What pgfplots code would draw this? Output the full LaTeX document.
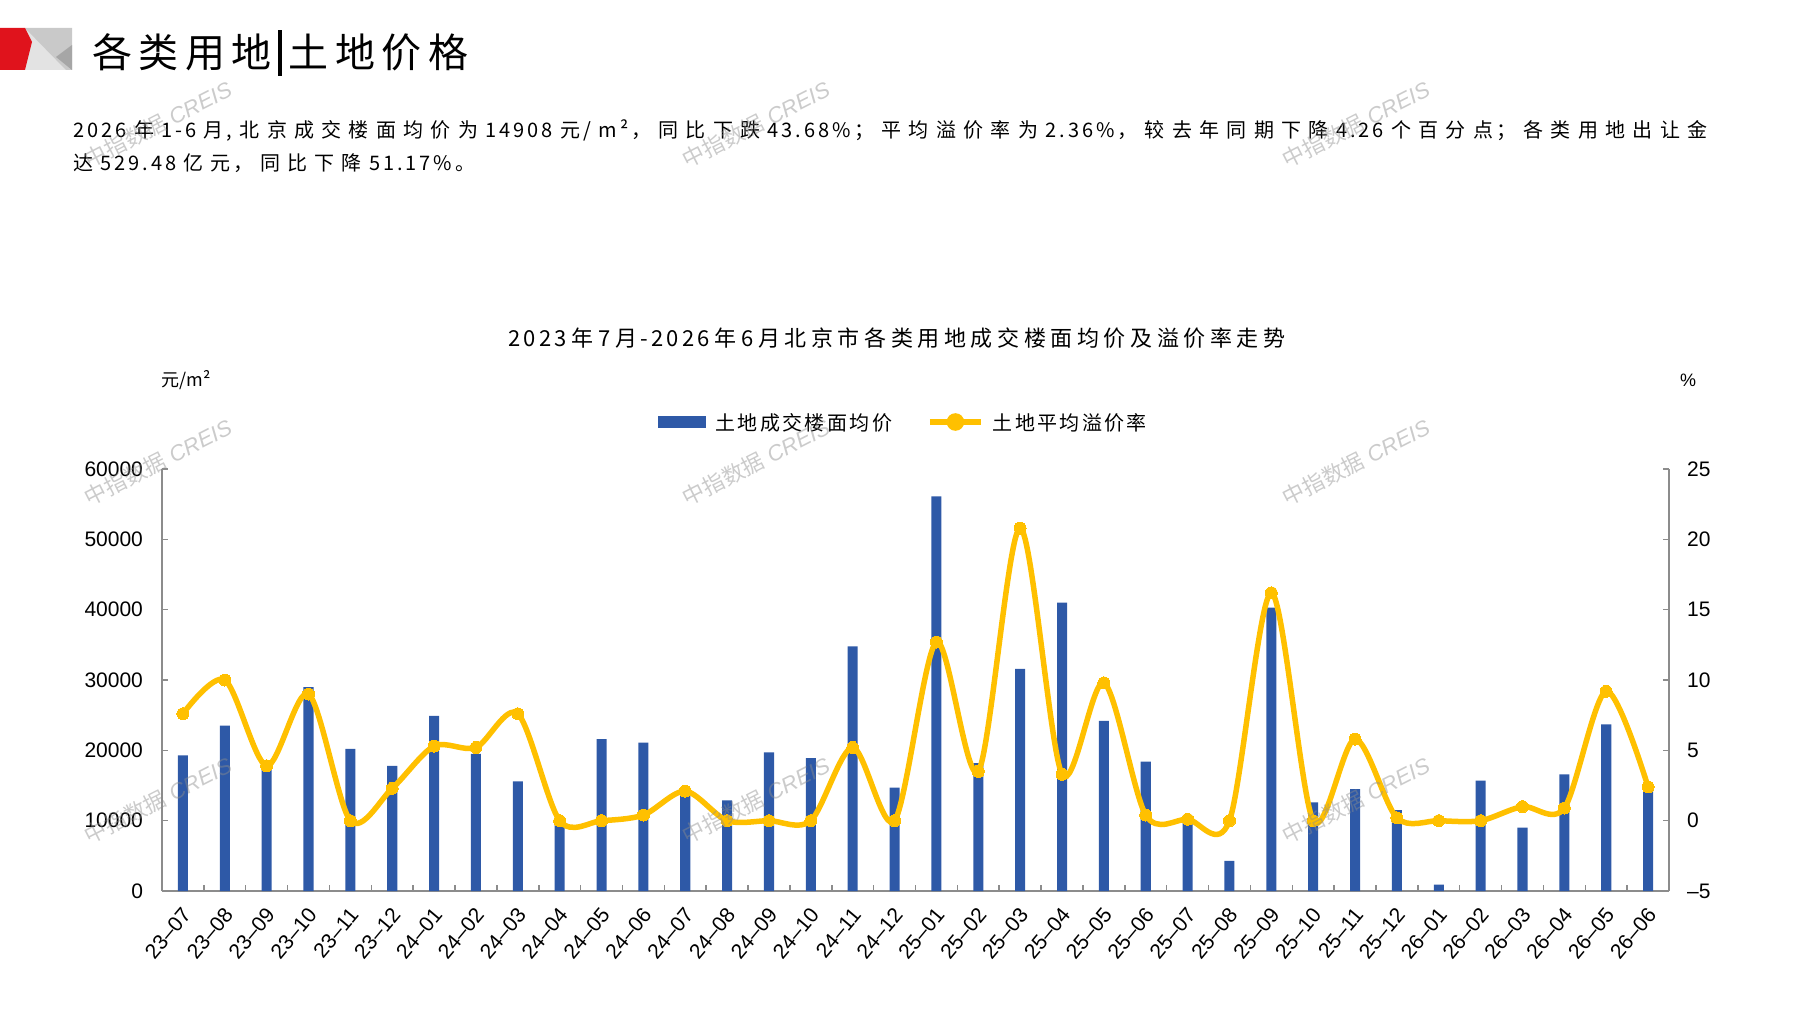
\documentclass[border=0pt]{standalone}
\usepackage{fontspec}
\setmainfont{Liberation Sans}
\newfontfamily\cjk{Noto Sans CJK SC}
\newfontfamily\cjksp[LetterSpace=15]{Noto Sans CJK SC}
\usepackage{pgfplots}
\pgfplotsset{compat=1.18}
\definecolor{barblue}{HTML}{2E59A7}
\definecolor{gold}{HTML}{FFC000}
\definecolor{axgray}{HTML}{8C8C8C}
\definecolor{logored}{HTML}{E0131C}
\newcommand\fillto[2]{\parbox[c]{#1}{\cjk\parfillskip=0pt\XeTeXlinebreaklocale "zh"\XeTeXlinebreakskip=0pt plus 1fil\relax #2}}
\newcommand\fillsp[2]{\parbox[c]{#1}{\cjksp\parfillskip=0pt\XeTeXlinebreaklocale "zh"\XeTeXlinebreakskip=0pt plus 1fil\relax #2}}

\pgfplotstableread{
x price rate
0 19300 7.6
1 23500 10.0
2 17500 3.9
3 29000 9.0
4 20200 0.0
5 17800 2.3
6 24900 5.3
7 19500 5.2
8 15600 7.6
9 10200 0.0
10 21600 0.0
11 21100 0.4
12 13900 2.1
13 12900 0.0
14 19700 0.0
15 18900 0.0
16 34800 5.2
17 14700 0.0
18 56100 12.7
19 18200 3.5
20 31600 20.8
21 41000 3.3
22 24200 9.8
23 18400 0.4
24 10700 0.1
25 4300 0.0
26 40300 16.2
27 12600 0.0
28 14500 5.8
29 11500 0.2
30 900 0.0
31 15700 0.0
32 9000 1.0
33 16600 0.9
34 23700 9.2
35 15000 2.4
}\datatable

\begin{document}
\begin{tikzpicture}
\useasboundingbox (0,0) rectangle (898.5pt,-505pt);
\pgfplotsset{
  common/.style={
    at={(81pt,-445.5pt)}, anchor=south west, scale only axis,
    width=753.5pt, height=211pt,
    xmin=-0.5, xmax=35.5,
    tick align=inside,
    major tick length=3pt, minor tick length=3pt,
    axis line style={axgray, line width=0.75pt},
    every tick/.style={axgray, line width=0.75pt},
    tick label style={font=\fontsize{10.5}{12}\selectfont, text=black},
    scaled y ticks=false,
    /pgf/number format/assume math mode=true,
    /pgf/number format/set thousands separator={},
  }
}
\begin{axis}[common,
  ymin=0, ymax=60000,
  axis x line*=bottom, axis y line*=left,
  ytick={0,10000,20000,30000,40000,50000,60000},
  yticklabels={0,10000,20000,30000,40000,50000,60000},
  yticklabel style={xshift=-6pt},
  xtick={0,...,35},
  minor x tick num=1,
  major x tick style={draw=none},
  minor x tick style={axgray, line width=0.75pt},
  xticklabels={23–07,23–08,23–09,23–10,23–11,23–12,24–01,24–02,24–03,24–04,24–05,24–06,24–07,24–08,24–09,24–10,24–11,24–12,25–01,25–02,25–03,25–04,25–05,25–06,25–07,25–08,25–09,25–10,25–11,25–12,26–01,26–02,26–03,26–04,26–05,26–06},
  xticklabel style={xshift=2pt, yshift=-10pt, rotate=50, anchor=east, inner sep=0pt},
]
\addplot[ybar, bar width=0.24, fill=barblue, draw=none] table[x=x, y=price] {\datatable};
\end{axis}
\begin{axis}[common,
  ymin=-5, ymax=25,
  axis y line*=right, axis x line=none,
  ytick={-5,0,5,10,15,20,25},
  yticklabels={–5,0,5,10,15,20,25},
  yticklabel style={xshift=5.5pt},
  legend style={at={(0.4914,1.1114)}, anchor=center, draw=none, fill=none,
    inner sep=0pt, legend columns=2, column sep=4.5pt,
    /tikz/every even column/.append style={column sep=17.5pt},
    nodes={inner sep=0pt}, font=\fontsize{10}{12}\selectfont},
  legend cell align=left,
]
\addlegendimage{legend image code/.code={\fill[barblue] (0pt,-2.75pt) rectangle (23.5pt,2.75pt);}}
\addlegendentry{\fillto{88.5pt}{土地成交楼面均价}}
\addplot[gold, line width=2.75pt, smooth, mark=*, mark size=3pt,
  mark options={fill=gold, draw=gold, line width=0pt},
  legend image code/.code={\draw[gold,line width=2.75pt] (0pt,0pt) -- (25.5pt,0pt); \fill[gold] (12.75pt,0pt) circle (3pt);}]
  table[x=x, y=rate] {\datatable};
\addlegendentry{\fillto{77pt}{土地平均溢价率}}
\end{axis}
\begin{scope}[x=0.5pt,y=-0.5pt]
  % logo
  \fill[gray!22] (25,28) rectangle (72,70);
  \fill[gray!42] (25,28) -- (72,28) -- (72,70) -- (66,70) -- cycle;
  \fill[gray!70] (72,45) -- (72,70) -- (56,57) -- cycle;
  \fill[logored] (0,28) -- (25,28) -- (32,42) -- (25,70) -- (0,70) -- cycle;
  % headline
  \node[anchor=west, inner sep=0pt, font=\fontsize{20}{24}\selectfont] at (92,53) {\fillto{188pt}{各类用地\hskip 0pt plus 1fil\rule[-0.2em]{2pt}{1.15em}\hskip 0pt plus 1fil 土地价格}};
  % body text
  \node[anchor=west, inner sep=0pt, font=\fontsize{10}{12}\selectfont] at (73,130) {\fillsp{817pt}{2026年1-6月,北京成交楼面均价为14908元/m²，同比下跌43.68\%；平均溢价率为2.36\%，较去年同期下降4.26个百分点；各类用地出让金}};
  \node[anchor=west, inner sep=0pt, font=\fontsize{10}{12}\selectfont] at (73,163) {\fillsp{201pt}{达529.48亿元，同比下降51.17\%。}};
  % chart title
  \node[anchor=west, inner sep=0pt, font=\fontsize{11}{13}\selectfont] at (508,338) {\fillsp{388.5pt}{2023年7月-2026年6月北京市各类用地成交楼面均价及溢价率走势}};
  % units
  \node[anchor=west, inner sep=0pt, font=\fontsize{9}{11}\selectfont] at (161,380) {\cjk 元/m²};
  \node[inner sep=0pt, font=\fontsize{9}{11}\selectfont] at (1688,380) {\%};
  % watermarks
  \foreach \wx in {158,756,1356}{
    \foreach \wy in {124,462,800}{
      \node[rotate=27, text=black!45, opacity=0.45, font=\fontsize{11}{13}\selectfont] at (\wx,\wy) {{\cjk 中指数据} \textit{CREIS}};
    }
  }
\end{scope}
\end{tikzpicture}
\end{document}
